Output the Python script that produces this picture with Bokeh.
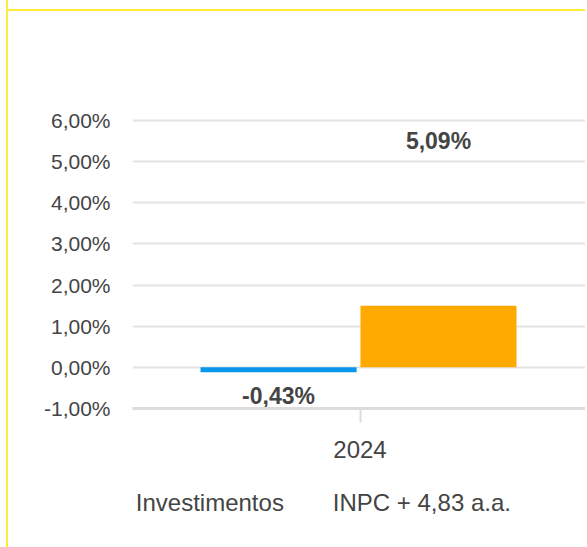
from bokeh.plotting import figure
from bokeh.models import ColumnDataSource, FixedTicker, LinearAxis, Range1d
from bokeh.core.properties import value
from bokeh.embed import file_html
from bokeh.resources import INLINE

# ---- data ----
categories = ["2024"]
series_names = ["Investimentos", "INPC + 4,83 a.a."]
final_values = [-0.43, 5.09]          # values shown in labels (%)
drawn_heights = [-0.12, 1.50]         # bar heights as captured in the picture (%)
series_colors = ["#0A96EB", "#FFAA00"]
y_ticks = [-1, 0, 1, 2, 3, 4, 5, 6]
y_tick_labels = ["-1,00%", "0,00%", "1,00%", "2,00%", "3,00%", "4,00%", "5,00%", "6,00%"]

FONT = "Liberation Sans"
TXT = "#444444"
YEL = "#FFEB3B"

cat_centers = [k + 0.5 for k in range(len(categories))]

p = figure(
    x_range=Range1d(0, len(categories)), y_range=Range1d(-1, 6.05),
    width=579, height=547,
    output_backend="svg", toolbar_location=None,
    min_border_left=124, min_border_right=0, min_border_top=118, min_border_bottom=139,
    margin=(0, 0, 0, 6),
    styles={
        "border-left": f"2px solid {YEL}",
        "background-image": f"linear-gradient({YEL}, {YEL})",
        "background-size": "100% 2px",
        "background-position": "0 9px",
        "background-repeat": "no-repeat",
    },
    outline_line_color=None,
)
p.background_fill_color = "white"
p.border_fill_alpha = 0

offsets = [-0.179, 0.1725]
bar_w = 0.343
for name, fv, h, col, off in zip(series_names, final_values, drawn_heights, series_colors, offsets):
    src = ColumnDataSource(dict(
        x=[c + off for c in cat_centers], h=[h], v=[fv],
        lab=[f"{fv:.2f}%".replace(".", ",")],
        yoff=[-17 if fv > 0 else 11],
    ))
    p.vbar(x="x", top="h", bottom=0, width=bar_w,
           source=src, fill_color=col, line_color=None)
    p.text(x="x", y="v", text="lab", source=src,
           y_offset="yoff", text_align="center", text_baseline="middle",
           text_font=value(FONT), text_font_size="23px", text_font_style="bold",
           text_color=TXT)

# grid
p.xgrid.grid_line_color = None
p.ygrid.ticker = FixedTicker(ticks=y_ticks)
p.ygrid.grid_line_color = "#e3e3e3"
p.ygrid.grid_line_width = 2

# y axis
p.yaxis.ticker = FixedTicker(ticks=y_ticks)
p.yaxis.major_label_overrides = {t: l for t, l in zip(y_ticks, y_tick_labels)}
p.yaxis.axis_line_color = None
p.yaxis.major_tick_line_color = None
p.yaxis.minor_tick_line_color = None
p.yaxis.major_tick_out = 0
p.yaxis.major_tick_in = 0
p.yaxis.major_label_standoff = 22
p.yaxis.major_label_text_font = FONT
p.yaxis.major_label_text_font_size = "21px"
p.yaxis.major_label_text_color = TXT

# x axis (category labels)
xa = p.xaxis[0]
xa.ticker = FixedTicker(ticks=cat_centers)
xa.major_label_overrides = {c: n for c, n in zip(cat_centers, categories)}
xa.axis_line_color = "#dcdcdc"
xa.axis_line_width = 3
xa.major_tick_line_color = "#dcdcdc"
xa.major_tick_line_width = 2
xa.major_tick_out = 14
xa.major_tick_in = 0
xa.minor_tick_line_color = None
xa.major_label_standoff = 18
xa.major_label_text_font = FONT
xa.major_label_text_font_size = "24px"
xa.major_label_text_color = TXT

# legend row (text only, no swatches) drawn as a label-only axis below the x axis
leg_pos = [0.170, 0.636]
leg_axis = LinearAxis(
    ticker=FixedTicker(ticks=leg_pos),
    major_label_overrides={pos: n for pos, n in zip(leg_pos, series_names)},
    axis_line_color=None, major_tick_line_color=None, minor_tick_line_color=None,
    major_tick_out=0, major_tick_in=0, major_label_standoff=28,
    major_label_text_font=FONT, major_label_text_font_size="24px",
    major_label_text_color=TXT,
)
p.add_layout(leg_axis, "below")

open("out.html", "w").write(file_html(p, INLINE))
